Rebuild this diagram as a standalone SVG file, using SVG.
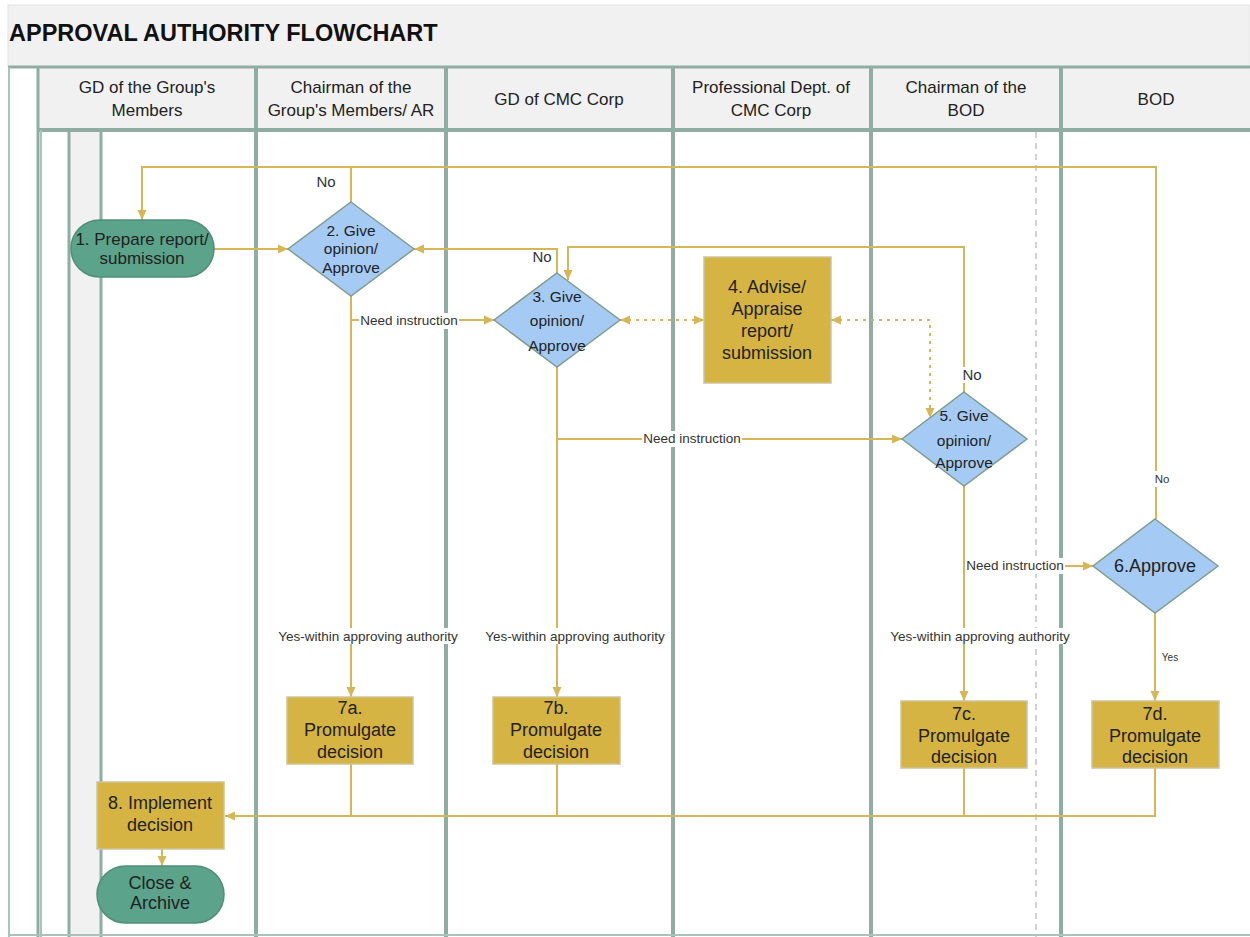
<svg xmlns="http://www.w3.org/2000/svg" width="1250" height="937" viewBox="0 0 1250 937">
<style>
.ln{stroke:#90ada3;stroke-width:4;fill:none}
.lnt{stroke:#a9c4ba;stroke-width:2;fill:none}
.ht{font-family:"Liberation Sans",Arial,sans-serif;font-size:17px;fill:#222;text-anchor:middle}
.nt{font-family:"Liberation Sans",Arial,sans-serif;font-size:18px;fill:#222;text-anchor:middle}
.pt{font-family:"Liberation Sans",Arial,sans-serif;font-size:17px;fill:#222;text-anchor:middle}
.dt{font-family:"Liberation Sans",Arial,sans-serif;font-size:15.5px;fill:#222;text-anchor:middle}
.edge{stroke:#d6b656;stroke-width:2;fill:none}
.dot{stroke-dasharray:3 5}
.lbl{font-family:"Liberation Sans",Arial,sans-serif;font-size:13.5px;fill:#333;text-anchor:middle}
.lbg{fill:#fff}
.pill{fill:#5ba38a;stroke:#4f8f78;stroke-width:1.5}
.dia{fill:#a5cbf5;stroke:#7f9d8e;stroke-width:1.5}
.box{fill:#d6b443;stroke:#cdc39b;stroke-width:1.5}
</style>
<defs>
<marker id="arr" viewBox="0 0 10 10" refX="10" refY="5" markerWidth="10" markerHeight="10" markerUnits="userSpaceOnUse" orient="auto-start-reverse"><path d="M0,0.5 L10,5 L0,9.5 z" fill="#d6b656"/></marker>
</defs>

<g id="background">
<rect x="0" y="0" width="1250" height="937" fill="#fff"/>
<rect x="8" y="5" width="1242" height="62" fill="#f1f1f1" stroke="#e4e4e4"/>
<text x="9" y="41" font-family="'Liberation Sans',Arial,sans-serif" font-size="23.5" font-weight="bold" fill="#111">APPROVAL AUTHORITY FLOWCHART</text>
<rect x="38" y="67" width="1212" height="63" fill="#f1f1f1"/>
<rect x="69" y="130" width="32" height="807" fill="#f1f1f1"/>
<line class="ln" x1="8" y1="67" x2="1250" y2="67" style="stroke-width:3"/>
<line class="ln" x1="38" y1="130" x2="1250" y2="130"/>
<line class="lnt" x1="9" y1="67" x2="9" y2="937"/>
<line class="ln" x1="38" y1="67" x2="38" y2="937" style="stroke-width:3"/>
<line class="lnt" x1="41" y1="130" x2="41" y2="937"/>
<line class="ln" x1="69" y1="130" x2="69" y2="937" style="stroke-width:3"/>
<line class="ln" x1="101" y1="130" x2="101" y2="937" style="stroke-width:3"/>
<line class="ln" x1="256" y1="67" x2="256" y2="937"/>
<line class="ln" x1="446" y1="67" x2="446" y2="937"/>
<line class="ln" x1="673" y1="67" x2="673" y2="937"/>
<line class="ln" x1="871" y1="67" x2="871" y2="937"/>
<line class="ln" x1="1061" y1="67" x2="1061" y2="937"/>
<line x1="1036" y1="132" x2="1036" y2="937" stroke="#c4c4c4" stroke-width="1.5" stroke-dasharray="6 5"/>
<line class="lnt" x1="8" y1="935" x2="1250" y2="935"/>
<text class="ht" x="147" y="93">GD of the Group's</text>
<text class="ht" x="147" y="116">Members</text>
<text class="ht" x="351" y="93">Chairman of the</text>
<text class="ht" x="351" y="116">Group's Members/ AR</text>
<text class="ht" x="559" y="105">GD of CMC Corp</text>
<text class="ht" x="771" y="93">Professional Dept. of</text>
<text class="ht" x="771" y="116">CMC Corp</text>
<text class="ht" x="966" y="93">Chairman of the</text>
<text class="ht" x="966" y="116">BOD</text>
<text class="ht" x="1156" y="105">BOD</text>
</g>

<g id="connectors">
<path class="edge" d="M214,249 H288" marker-end="url(#arr)"/>
<path class="edge" d="M351,202 V167 H142 V220" marker-end="url(#arr)"/>
<path class="edge" d="M1156,519 V167 H351"/>
<path class="edge" d="M557,273 V249 H414" marker-end="url(#arr)"/>
<path class="edge" d="M964,392 V247 H568 V280" marker-end="url(#arr)"/>
<path class="edge" d="M351,296 V697" marker-end="url(#arr)"/>
<path class="edge" d="M351,320 H494" marker-end="url(#arr)"/>
<path class="edge" d="M557,367 V697" marker-end="url(#arr)"/>
<path class="edge" d="M557,439 H902" marker-end="url(#arr)"/>
<path class="edge dot" d="M620,320 H704" marker-start="url(#arr)" marker-end="url(#arr)"/>
<path class="edge dot" d="M831,320 H930 V418" marker-start="url(#arr)" marker-end="url(#arr)"/>
<path class="edge" d="M964,486 V701" marker-end="url(#arr)"/>
<path class="edge" d="M964,566 H1093" marker-end="url(#arr)"/>
<path class="edge" d="M1155,613 V701" marker-end="url(#arr)"/>
<path class="edge" d="M351,764 V816"/>
<path class="edge" d="M557,764 V816"/>
<path class="edge" d="M964,768 V816"/>
<path class="edge" d="M1155,768 V816 H225" marker-end="url(#arr)"/>
<path class="edge" d="M162,849 V866" marker-end="url(#arr)"/>
<g id="edge-labels">
<text class="lbl" x="326" y="187" style="font-size:15px">No</text>
<text class="lbl" x="542" y="262" style="font-size:15px">No</text>
<rect class="lbg" x="961" y="367" width="22" height="16"/>
<text class="lbl" x="972" y="380" style="font-size:15px">No</text>
<rect class="lbg" x="1152" y="471" width="20" height="16"/>
<text class="lbl" x="1162" y="483" style="font-size:11.5px">No</text>
<text class="lbl" x="1170" y="661" style="font-size:10px">Yes</text>
<rect class="lbg" x="359" y="313" width="100" height="16"/>
<text class="lbl" x="409" y="325">Need instruction</text>
<rect class="lbg" x="642" y="431" width="100" height="16"/>
<text class="lbl" x="692" y="443">Need instruction</text>
<rect class="lbg" x="965" y="558" width="100" height="16"/>
<text class="lbl" x="1015" y="570">Need instruction</text>
<rect class="lbg" x="276" y="628" width="184" height="16"/>
<text class="lbl" x="368" y="641">Yes-within approving authority</text>
<rect class="lbg" x="483" y="628" width="184" height="16"/>
<text class="lbl" x="575" y="641">Yes-within approving authority</text>
<rect class="lbg" x="888" y="628" width="184" height="16"/>
<text class="lbl" x="980" y="641">Yes-within approving authority</text>
</g>
</g>

<g id="n1">
<rect class="pill" x="71" y="220" width="143" height="57" rx="28.5"/>
<text class="pt" x="142" y="245">1. Prepare report/</text>
<text class="pt" x="142" y="264">submission</text>
</g>
<g id="n2">
<polygon class="dia" points="351,202 414,249 351,296 288,249"/>
<text class="dt" x="351" y="236">2. Give</text>
<text class="dt" x="351" y="254">opinion/</text>
<text class="dt" x="351" y="273">Approve</text>
</g>
<g id="n3">
<polygon class="dia" points="557,273 620,320 557,367 494,320"/>
<text class="dt" x="557" y="302">3. Give</text>
<text class="dt" x="557" y="326">opinion/</text>
<text class="dt" x="557" y="351">Approve</text>
</g>
<g id="n4">
<rect class="box" x="704" y="257" width="127" height="126"/>
<text class="nt" x="767" y="293">4. Advise/</text>
<text class="nt" x="767" y="315">Appraise</text>
<text class="nt" x="767" y="337">report/</text>
<text class="nt" x="767" y="359">submission</text>
</g>
<g id="n5">
<polygon class="dia" points="964,392 1027,439 964,486 902,439"/>
<text class="dt" x="964" y="421">5. Give</text>
<text class="dt" x="964" y="446">opinion/</text>
<text class="dt" x="964" y="468">Approve</text>
</g>
<g id="n6">
<polygon class="dia" points="1155,519 1218,566 1155,613 1093,566"/>
<text class="nt" x="1155" y="572">6.Approve</text>
</g>
<g id="n7a">
<rect class="box" x="287" y="697" width="126" height="67"/>
<text class="nt" x="350" y="714">7a.</text>
<text class="nt" x="350" y="736">Promulgate</text>
<text class="nt" x="350" y="758">decision</text>
</g>
<g id="n7b">
<rect class="box" x="493" y="697" width="127" height="67"/>
<text class="nt" x="556" y="714">7b.</text>
<text class="nt" x="556" y="736">Promulgate</text>
<text class="nt" x="556" y="758">decision</text>
</g>
<g id="n7c">
<rect class="box" x="901" y="701" width="126" height="67"/>
<text class="nt" x="964" y="720">7c.</text>
<text class="nt" x="964" y="742">Promulgate</text>
<text class="nt" x="964" y="763">decision</text>
</g>
<g id="n7d">
<rect class="box" x="1092" y="701" width="127" height="67"/>
<text class="nt" x="1155" y="720">7d.</text>
<text class="nt" x="1155" y="742">Promulgate</text>
<text class="nt" x="1155" y="763">decision</text>
</g>
<g id="n8">
<rect class="box" x="97" y="782" width="127" height="67"/>
<text class="nt" x="160" y="809">8. Implement</text>
<text class="nt" x="160" y="831">decision</text>
</g>
<g id="n9">
<rect class="pill" x="97" y="866" width="127" height="57" rx="28.5"/>
<text class="nt" x="160" y="889">Close &amp;</text>
<text class="nt" x="160" y="909">Archive</text>
</g>
</svg>
